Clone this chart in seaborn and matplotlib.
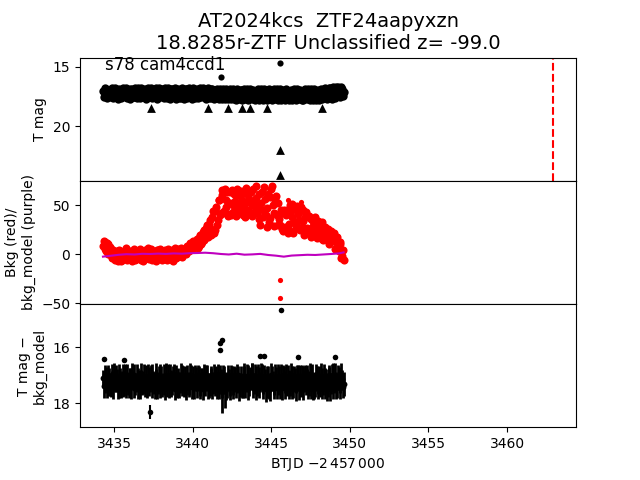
import matplotlib
matplotlib.use("Agg")
import matplotlib.pyplot as plt
import seaborn as sns

# ---------------- data ----------------
btjd = [
    3434.3, 3434.4, 3434.5, 3434.6, 3434.7, 3434.8, 3434.9, 3435.0, 3435.1, 3435.2,
    3435.3, 3435.4, 3435.5, 3435.6, 3435.7, 3435.8, 3435.9, 3436.0, 3436.1, 3436.2,
    3436.3, 3436.4, 3436.5, 3436.6, 3436.7, 3436.8, 3436.9, 3437.0, 3437.1, 3437.2,
    3437.3, 3437.4, 3437.5, 3437.6, 3437.7, 3437.8, 3437.9, 3438.0, 3438.1, 3438.2,
    3438.3, 3438.4, 3438.5, 3438.6, 3438.7, 3438.8, 3438.9, 3439.0, 3439.1, 3439.2,
    3439.3, 3439.4, 3439.5, 3439.6, 3439.7, 3439.8, 3439.9, 3440.0, 3440.1, 3440.2,
    3440.3, 3440.4, 3440.5, 3440.6, 3440.7, 3440.8, 3440.9, 3441.0, 3441.1, 3441.2,
    3441.3, 3441.4, 3441.5, 3441.6, 3441.7, 3441.8, 3441.9, 3442.0, 3442.1, 3442.2,
    3442.3, 3442.4, 3442.5, 3442.6, 3442.7, 3442.8, 3442.9, 3443.0, 3443.1, 3443.2,
    3443.3, 3443.4, 3443.5, 3443.6, 3443.7, 3443.8, 3443.9, 3444.0, 3444.1, 3444.2,
    3444.3, 3444.4, 3444.5, 3444.6, 3444.7, 3444.8, 3444.9, 3445.0, 3445.1, 3445.2,
    3445.3, 3445.4, 3445.5, 3445.6, 3445.7, 3445.8, 3445.9, 3446.0, 3446.1, 3446.2,
    3446.3, 3446.4, 3446.5, 3446.6, 3446.7, 3446.8, 3446.9, 3447.0, 3447.1, 3447.2,
    3447.3, 3447.4, 3447.5, 3447.6, 3447.7, 3447.8, 3447.9, 3448.0, 3448.1, 3448.2,
    3448.3, 3448.4, 3448.5, 3448.6, 3448.7, 3448.8, 3448.9, 3449.0, 3449.1, 3449.2,
    3449.3, 3449.4, 3449.5, 3449.6,
]
btjd2 = [
    3434.35, 3434.45, 3434.55, 3434.65, 3434.75, 3434.85, 3434.95, 3435.05, 3435.15, 3435.25,
    3435.35, 3435.45, 3435.55, 3435.65, 3435.75, 3435.85, 3435.95, 3436.05, 3436.15, 3436.25,
    3436.35, 3436.45, 3436.55, 3436.65, 3436.75, 3436.85, 3436.95, 3437.05, 3437.15, 3437.25,
    3437.35, 3437.45, 3437.55, 3437.65, 3437.75, 3437.85, 3437.95, 3438.05, 3438.15, 3438.25,
    3438.35, 3438.45, 3438.55, 3438.65, 3438.75, 3438.85, 3438.95, 3439.05, 3439.15, 3439.25,
    3439.35, 3439.45, 3439.55, 3439.65, 3439.75, 3439.85, 3439.95, 3440.05, 3440.15, 3440.25,
    3440.35, 3440.45, 3440.55, 3440.65, 3440.75, 3440.85, 3440.95, 3441.05, 3441.15, 3441.25,
    3441.35, 3441.45, 3441.55, 3441.65, 3441.75, 3441.85, 3441.95, 3442.05, 3442.15, 3442.25,
    3442.35, 3442.45, 3442.55, 3442.65, 3442.75, 3442.85, 3442.95, 3443.05, 3443.15, 3443.25,
    3443.35, 3443.45, 3443.55, 3443.65, 3443.75, 3443.85, 3443.95, 3444.05, 3444.15, 3444.25,
    3444.35, 3444.45, 3444.55, 3444.65, 3444.75, 3444.85, 3444.95, 3445.05, 3445.15, 3445.25,
    3445.35, 3445.45, 3445.55, 3445.65, 3445.75, 3445.85, 3445.95, 3446.05, 3446.15, 3446.25,
    3446.35, 3446.45, 3446.55, 3446.65, 3446.75, 3446.85, 3446.95, 3447.05, 3447.15, 3447.25,
    3447.35, 3447.45, 3447.55, 3447.65, 3447.75, 3447.85, 3447.95, 3448.05, 3448.15, 3448.25,
    3448.35, 3448.45, 3448.55, 3448.65, 3448.75, 3448.85, 3448.95, 3449.05, 3449.15, 3449.25,
    3449.35, 3449.45, 3449.55,
]

tmag = [
    17.05, 17.42, 16.88, 17.31, 17.12, 17.55, 16.92, 17.26, 17.47, 16.97,
    17.33, 17.08, 17.58, 16.90, 17.21, 17.44, 17.02, 16.86, 17.37, 17.15,
    17.52, 16.95, 17.29, 17.10, 17.46, 16.89, 17.35, 17.18, 17.60, 17.00,
    17.24, 17.50, 16.93, 17.38, 17.07, 17.56, 16.91, 17.28, 17.43, 17.11,
    16.98, 17.40, 17.19, 17.57, 16.87, 17.32, 17.04, 17.49, 17.14, 16.94,
    17.36, 17.09, 17.53, 16.90, 17.27, 17.45, 17.01, 17.34, 16.88, 17.58,
    17.16, 17.41, 16.96, 17.30, 17.55, 17.06, 17.39, 16.92, 17.25, 17.60,
    17.12, 16.97, 17.48, 17.20, 17.62, 16.93, 17.35, 17.08, 17.55, 17.18,
    17.44, 16.99, 17.65, 17.27, 17.03, 17.52, 17.31, 17.62, 16.95, 17.40,
    17.15, 17.66, 17.22, 17.48, 16.98, 17.60, 17.33, 17.06, 17.54, 17.26,
    17.63, 17.10, 17.45, 17.67, 17.00, 17.38, 17.58, 17.19, 17.49, 16.97,
    17.61, 17.29, 17.52, 17.05, 17.66, 17.24, 17.43, 17.64, 17.11, 17.50,
    17.34, 17.62, 17.02, 17.47, 17.21, 17.65, 17.37, 17.08, 17.55, 17.28,
    17.60, 17.13, 17.44, 17.00, 17.58, 17.30, 17.63, 17.17, 17.46, 17.04,
    17.39, 17.56, 16.99, 17.25, 17.48, 16.92, 17.33, 16.86, 17.12, 17.41,
    16.95, 17.20, 16.84, 17.10,
]
tmag2 = [
    17.55, 16.78, 17.65, 16.95, 17.40, 16.82, 17.62, 16.80, 17.18, 17.68,
    16.85, 17.60, 16.79, 17.48, 16.76, 17.66, 17.28, 17.70, 16.84, 17.58,
    16.80, 17.67, 16.83, 17.62, 16.78, 17.55, 16.90, 17.69, 16.81, 17.45,
    16.77, 17.64, 17.20, 16.82, 17.70, 16.80, 17.57, 16.86, 17.66, 16.79,
    17.63, 16.81, 17.68, 16.84, 17.52, 16.78, 17.71, 16.88, 17.60, 17.66,
    16.82, 17.70, 16.85, 17.65, 16.79, 17.15, 17.72, 16.80, 17.62, 16.86,
    17.67, 16.83, 17.58, 16.77, 17.20, 17.71, 16.82, 17.64, 16.84, 16.90,
    17.69, 17.60, 16.85, 17.75, 16.88, 17.68, 16.86, 17.72, 16.92, 17.74,
    16.88, 17.76, 16.90, 17.72, 17.78, 16.87, 17.74, 16.95, 17.77, 16.89,
    17.75, 16.90, 17.79, 16.86, 17.73, 16.93, 17.80, 17.76, 16.88, 17.78,
    16.92, 17.80, 16.87, 16.95, 17.77, 16.90, 17.02, 17.81, 16.89, 17.76,
    16.91, 17.79, 16.88, 17.82, 16.94, 17.78, 16.86, 17.05, 17.80, 16.93,
    17.78, 16.90, 17.81, 16.87, 17.76, 16.95, 17.79, 17.83, 16.89, 17.74,
    16.92, 17.80, 16.88, 17.77, 16.91, 17.82, 16.94, 17.79, 16.87, 17.75,
    16.85, 16.80, 17.72, 16.82, 16.78, 17.68, 16.75, 17.62, 16.72, 16.70,
    17.55, 16.72, 17.48,
]

tmag_extra_t = [3441.8, 3445.55]
tmag_extra_m = [15.9, 14.7]
limit_t = [3437.33, 3441.0, 3442.26, 3443.17, 3443.64, 3444.7, 3445.55, 3445.55, 3448.26]
limit_m = [18.45, 18.45, 18.45, 18.45, 18.45, 18.45, 22.0, 24.15, 18.45]

bkg = [
    8, 12, 3, 10, 1, 5, -3, 2, -5, 3,
    -2, 3, -6, 1, -4, 4, -1, -5, 2, -3,
    1, -5, 3, -2, -6, 2, -1, 4, -4, 0,
    -3, 3, -5, 1, -2, 4, -4, 2, -1, -5,
    3, -2, 1, -4, 4, -1, 2, -3, 5, 0,
    2, 0, 4, 2, 6, 4, 8, 6, 10, 9,
    13, 8, 20, 12, 25, 16, 30, 22, 35, 26,
    44, 25, 48, 35, 55, 42, 60, 44, 55, 63,
    41, 52, 65, 43, 54, 66, 42, 51, 64, 40,
    48, 67, 45, 56, 63, 39, 52, 69, 42, 61,
    30, 63, 45, 56, 28, 61, 37, 66, 50, 42,
    59, 30, 36, 45, 26, 45, 28, 45, 25, 50,
    38, 22, 46, 30, 41, 25, 48, 34, 20, 43,
    27, 39, 18, 35, 24, 38, 16, 31, 21, 33,
    14, 28, 19, 26, 10, 24, 13, 22, 6, 17,
    3, 10, -2, -6,
]
bkg2 = [
    13, 5, 11, 0, 7, -4, 4, -6, 1, -7,
    4, -7, 2, -3, 6, -6, 3, 0, -7, 5,
    -6, 2, -4, 5, 0, -7, 3, -3, 6, -5,
    5, -6, 0, -7, 4, -3, 5, -6, 3, 4,
    -6, 5, -5, 2, -7, 6, -4, 3, -2, 6,
    -3, 5, 0, 8, 3, 11, 5, 13, 7, 15,
    6, 19, 10, 23, 14, 27, 18, 31, 20, 38,
    22, 44, 30, 55, 40, 65, 42, 66, 48, 39,
    63, 40, 50, 61, 39, 49, 60, 44, 55, 62,
    38, 53, 60, 41, 50, 66, 44, 57, 48, 36,
    52, 38, 68, 40, 47, 33, 58, 69, 29, 55,
    40, 52, 30, 42, 24, 44, 40, 22, 31, 44,
    51, 33, 27, 49, 35, 44, 28, 45, 38, 24,
    38, 22, 36, 29, 35, 20, 34, 27, 30, 15,
    27, 20, 24, 12, 22, 16, 20, 5, 18, 8,
    12, -4, 4,
]
bkg_extra_t = [3445.55, 3445.55, 3446.05, 3446.9, 3446.9]
bkg_extra_v = [-26, -45, 55, 53, 47]

model_t = [3434.3, 3434.8, 3435.3, 3435.8, 3436.3, 3436.8, 3437.3, 3437.8,
           3438.3, 3438.8, 3439.3, 3439.8, 3440.3, 3440.8, 3441.3, 3441.8,
           3442.3, 3442.8, 3443.3, 3443.8, 3444.3, 3444.8, 3445.3, 3445.8,
           3446.3, 3446.8, 3447.3, 3447.8, 3448.3, 3448.8, 3449.3, 3449.6]
bkg_model = [-2.5, -1.6, -0.6, 0.0, -0.3, 0.4, 0.2, 0.6, 0.3, 0.8,
             0.5, 1.0, 1.2, 1.5, 1.0, 0.2, -0.3, 0.5, -0.5, -0.2,
             0.3, -0.8, -1.5, -2.5, -1.4, -1.0, -0.6, -0.8, -0.3, 0.2,
             0.8, 1.8]

diff_mag = [
    17.10, 17.25, 16.98, 17.32, 17.05, 17.40, 17.15, 16.96, 17.28, 17.12,
    17.35, 17.02, 17.22, 17.45, 16.99, 17.18, 17.30, 17.06, 17.38, 17.14,
    16.97, 17.27, 17.42, 17.08, 17.20, 17.36, 17.01, 17.24, 17.44, 17.11,
    17.30, 16.98, 17.17, 17.39, 17.04, 17.26, 17.47, 17.09, 17.21, 17.34,
    17.00, 17.23, 17.41, 17.07, 17.29, 16.96, 17.19, 17.37, 17.05, 17.25,
    17.43, 17.10, 16.99, 17.31, 17.16, 17.40, 17.03, 17.27, 17.46, 17.13,
    17.22, 16.97, 17.35, 17.08, 17.28, 17.44, 17.01, 17.19, 17.33, 17.06,
    17.26, 17.45, 17.12, 16.95, 17.30, 17.18, 17.60, 17.04, 17.24, 17.37,
    17.09, 17.32, 17.00, 17.41, 17.15, 17.27, 16.98, 17.36, 17.20, 17.46,
    17.11, 17.29, 17.03, 17.39, 17.22, 16.97, 17.34, 17.14, 17.43, 17.07,
    17.25, 17.02, 17.38, 17.17, 17.47, 17.05, 17.31, 16.99, 17.21, 17.40,
    17.12, 17.35, 17.06, 17.28, 17.44, 17.00, 17.23, 17.37, 17.09, 17.30,
    16.98, 17.42, 17.16, 17.33, 17.04, 17.26, 17.45, 17.11, 17.20, 17.36,
    17.08, 17.29, 17.47, 17.02, 17.19, 17.38, 16.96, 17.25, 17.41, 17.13,
    17.32, 17.05, 17.22, 17.44, 17.10, 17.35, 16.99, 17.27, 17.16, 17.39,
    17.03, 17.24, 17.12, 17.30,
]
diff_err = [
    0.30, 0.38, 0.27, 0.42, 0.33, 0.36, 0.29, 0.40, 0.31, 0.35,
    0.44, 0.28, 0.37, 0.32, 0.41, 0.30, 0.39, 0.34, 0.45, 0.29,
    0.36, 0.31, 0.43, 0.28, 0.38, 0.33, 0.40, 0.30, 0.35, 0.42,
    0.29, 0.37, 0.32, 0.44, 0.27, 0.39, 0.34, 0.41, 0.30, 0.36,
    0.43, 0.31, 0.38, 0.28, 0.40, 0.35, 0.29, 0.42, 0.33, 0.37,
    0.30, 0.45, 0.34, 0.39, 0.27, 0.36, 0.41, 0.32, 0.38, 0.44,
    0.33, 0.29, 0.40, 0.35, 0.43, 0.31, 0.37, 0.28, 0.42, 0.34,
    0.39, 0.30, 0.46, 0.36, 0.32, 0.41, 0.75, 0.38, 0.35, 0.43,
    0.31, 0.40, 0.34, 0.29, 0.45, 0.37, 0.33, 0.42, 0.30, 0.36,
    0.44, 0.32, 0.39, 0.35, 0.28, 0.41, 0.34, 0.46, 0.31, 0.38,
    0.36, 0.43, 0.30, 0.40, 0.33, 0.37, 0.29, 0.42, 0.35, 0.31,
    0.41, 0.34, 0.38, 0.28, 0.44, 0.32, 0.39, 0.36, 0.30, 0.45,
    0.33, 0.37, 0.42, 0.29, 0.40, 0.35, 0.31, 0.43, 0.38, 0.34,
    0.30, 0.44, 0.36, 0.41, 0.32, 0.38, 0.29, 0.42, 0.35, 0.40,
    0.37, 0.31, 0.45, 0.33, 0.39, 0.30, 0.42, 0.36, 0.28, 0.41,
    0.34, 0.38, 0.30, 0.43,
]
diff_mag2 = [
    17.38, 17.00, 17.45, 17.08, 17.33, 16.97, 17.42, 17.18, 17.03, 17.48,
    17.06, 17.40, 16.98, 17.29, 17.47, 17.01, 17.35, 17.11, 16.96, 17.44,
    17.31, 17.04, 17.14, 17.46, 16.99, 17.26, 17.41, 17.07, 17.02, 17.37,
    17.05, 17.43, 17.28, 16.97, 17.45, 17.12, 17.01, 17.39, 17.06, 17.48,
    17.36, 17.04, 16.98, 17.42, 17.09, 17.47, 17.02, 17.31, 17.44, 17.00,
    17.07, 17.39, 17.46, 17.02, 17.35, 16.99, 17.43, 17.10, 17.01, 17.45,
    17.04, 17.41, 17.12, 17.47, 16.98, 17.09, 17.45, 17.36, 17.02, 17.42,
    17.00, 17.14, 17.39, 17.46, 17.03, 17.42, 17.08, 17.55, 17.47, 17.02,
    17.44, 17.05, 17.46, 17.10, 17.40, 17.01, 17.48, 17.06, 17.42, 17.03,
    17.45, 17.02, 17.47, 17.08, 17.00, 17.44, 17.06, 17.49, 17.03, 17.43,
    17.01, 17.46, 17.05, 17.49, 17.02, 17.43, 17.50, 17.07, 17.45, 17.04,
    17.46, 17.03, 17.48, 17.01, 17.08, 17.45, 17.02, 17.06, 17.47, 17.00,
    17.44, 17.05, 17.47, 17.02, 17.46, 17.01, 17.09, 17.48, 17.03, 17.05,
    17.46, 17.00, 17.06, 17.45, 17.48, 17.02, 17.44, 17.04, 17.01, 17.47,
    17.03, 17.46, 17.48, 17.00, 17.45, 17.02, 17.47, 17.01, 17.44, 17.04,
    17.45, 17.00, 17.42,
]
diff_err2 = [
    0.42, 0.38, 0.35, 0.44, 0.40, 0.36, 0.43, 0.41, 0.39, 0.37,
    0.45, 0.40, 0.37, 0.43, 0.35, 0.42, 0.44, 0.38, 0.41, 0.36,
    0.39, 0.44, 0.41, 0.37, 0.43, 0.40, 0.36, 0.45, 0.42, 0.38,
    0.43, 0.36, 0.40, 0.42, 0.38, 0.44, 0.41, 0.37, 0.45, 0.39,
    0.40, 0.43, 0.38, 0.36, 0.44, 0.41, 0.39, 0.42, 0.37, 0.45,
    0.44, 0.38, 0.42, 0.40, 0.36, 0.43, 0.41, 0.45, 0.39, 0.37,
    0.41, 0.44, 0.37, 0.42, 0.40, 0.45, 0.38, 0.43, 0.36, 0.42,
    0.39, 0.43, 0.45, 0.38, 0.41, 0.37, 0.44, 0.60, 0.42, 0.40,
    0.43, 0.41, 0.37, 0.44, 0.39, 0.42, 0.45, 0.38, 0.40, 0.46,
    0.36, 0.44, 0.41, 0.39, 0.43, 0.37, 0.45, 0.40, 0.42, 0.38,
    0.44, 0.39, 0.42, 0.45, 0.37, 0.41, 0.43, 0.40, 0.38, 0.44,
    0.40, 0.43, 0.37, 0.42, 0.45, 0.39, 0.41, 0.44, 0.36, 0.43,
    0.42, 0.38, 0.44, 0.40, 0.43, 0.37, 0.45, 0.41, 0.39, 0.42,
    0.38, 0.45, 0.40, 0.43, 0.36, 0.44, 0.41, 0.39, 0.46, 0.37,
    0.43, 0.40, 0.42, 0.38, 0.45, 0.41, 0.37, 0.44, 0.39, 0.42,
    0.40, 0.44, 0.38,
]
diff_extra_t = [3434.38, 3435.65, 3441.73, 3441.9, 3441.76, 3444.27, 3444.55, 3445.6, 3446.7, 3449.04, 3437.3]
diff_extra_m = [16.4, 16.45, 15.85, 15.75, 16.1, 16.3, 16.3, 14.67, 16.35, 16.35, 18.3]
diff_extra_e = [0.04, 0.04, 0.04, 0.04, 0.04, 0.04, 0.04, 0.03, 0.04, 0.04, 0.25]

discovery_t = 3462.9

title = "AT2024kcs  ZTF24aapyxzn\n18.8285r-ZTF Unclassified z= -99.0"
sector_label = "s78 cam4ccd1"

# ---------------- plot ----------------
t_all = btjd + btjd2
tmag_all = tmag + tmag2
bkg_all = bkg + bkg2
diff_all = diff_mag + diff_mag2
err_all = diff_err + diff_err2

fig, axes = plt.subplots(3, 1, sharex=True, figsize=(6.4, 4.8), dpi=100)
plt.subplots_adjust(hspace=0)
ax1, ax2, ax3 = axes

sns.scatterplot(x=t_all, y=tmag_all, ax=ax1, color="k", s=36, linewidth=0, legend=False)
sns.scatterplot(x=tmag_extra_t, y=tmag_extra_m, ax=ax1, color="k", s=20, linewidth=0, legend=False)
sns.scatterplot(x=limit_t, y=limit_m, ax=ax1, color="k", marker="^", s=40, linewidth=0, legend=False)
ax1.axvline(discovery_t, color="r", ls="--", lw=1.5)
ax1.set_ylim(24.62, 14.23)
ax1.set_yticks([15, 20])
ax1.set_ylabel("T mag")
ax1.text(0.05, 0.9, sector_label, transform=ax1.transAxes, fontsize=12)
ax1.set_title(title, fontsize=14)

sns.scatterplot(x=t_all, y=bkg_all, ax=ax2, color="r", s=34, linewidth=0, legend=False)
sns.scatterplot(x=bkg_extra_t, y=bkg_extra_v, ax=ax2, color="r", s=14, linewidth=0, legend=False)
sns.lineplot(x=model_t, y=bkg_model, ax=ax2, color="m", lw=1.5, legend=False)
ax2.set_ylim(-50.7, 74.7)
ax2.set_yticks([50, 0, -50])
ax2.set_ylabel("Bkg (red)/\nbkg_model (purple)")

ax3.errorbar(t_all, diff_all, yerr=err_all, fmt="none", ecolor="k", elinewidth=2, capsize=0)
ax3.errorbar(diff_extra_t, diff_extra_m, yerr=diff_extra_e, fmt="none", ecolor="k", elinewidth=1.5, capsize=0)
sns.scatterplot(x=t_all, y=diff_all, ax=ax3, color="k", s=18, linewidth=0, legend=False)
sns.scatterplot(x=diff_extra_t, y=diff_extra_m, ax=ax3, color="k", s=16, linewidth=0, legend=False)
ax3.set_ylim(18.85, 14.45)
ax3.set_yticks([16, 18])
ax3.set_ylabel("T mag \u2212\nbkg_model")
ax3.set_xlabel(r"BTJD $-2\,457\,000$")

for ax in (ax1, ax2):
    ax.tick_params(axis="x", bottom=False)
ax3.set_xlim(3432.84, 3464.38)
ax3.set_xticks([3435, 3440, 3445, 3450, 3455, 3460])

fig.savefig("out.png", dpi=100)
